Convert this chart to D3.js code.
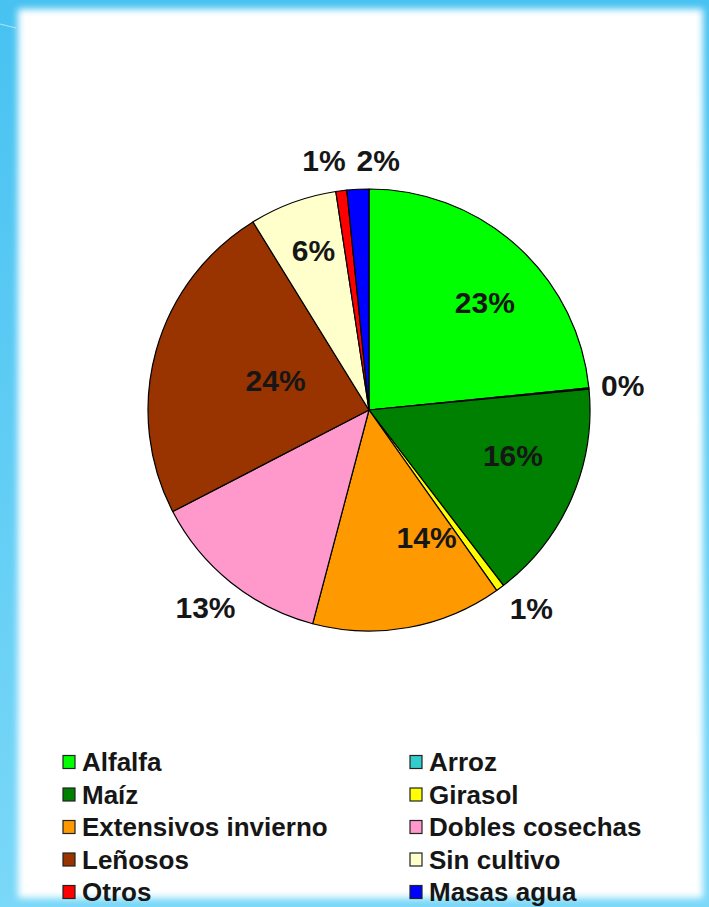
<!DOCTYPE html>
<html>
<head>
<meta charset="utf-8">
<script src="https://cdn.jsdelivr.net/npm/d3@7"></script>
<style>
  html, body { margin: 0; padding: 0; background: #fff; }
  svg { display: block; }
</style>
</head>
<body>
<div id="app"></div>
<script>
// data (clockwise from 12 o'clock)
const categories = ["Alfalfa", "Arroz", "Maíz", "Girasol", "Extensivos invierno",
  "Dobles cosechas", "Leñosos", "Sin cultivo", "Otros", "Masas agua"]
const values = [23.4, 0.1, 16.1, 0.6, 13.9, 13.3, 23.8, 6.4, 0.8, 1.6]
const colors = ["#00ff00", "#33cccc", "#008000", "#ffff00", "#ff9900",
  "#ff99cc", "#993300", "#ffffcc", "#ff0000", "#0000ff"]

// label placement: [radius, angle shift in degrees] (Excel "best fit")
const labelLayout = [[158, 5], [255, 0], [151, -6], [256, -3], [140, -14],
  [256, 1], [98, 2], [169, 1], [254, -3], [250, 5]]

const W = 709, H = 907
const cx = 369, cy = 410, R = 221

const svg = d3.select("#app").append("svg")
  .attr("width", W)
  .attr("height", H)

const defs = svg.append("defs")
const bg = defs.append("linearGradient").attr("id", "bg")
  .attr("x1", 0).attr("y1", 0).attr("x2", 0).attr("y2", 1)
bg.append("stop").attr("offset", "0%").attr("stop-color", "#47c2f1")
bg.append("stop").attr("offset", "100%").attr("stop-color", "#7ad8f8")
defs.append("filter").attr("id", "soft")
  .attr("x", "-5%").attr("y", "-5%").attr("width", "110%").attr("height", "110%")
  .append("feGaussianBlur").attr("stdDeviation", 3.5)

// slide frame
svg.append("rect").attr("width", W).attr("height", H).attr("fill", "url(#bg)")
svg.append("rect")
  .attr("x", 18).attr("y", 9)
  .attr("width", W - 24).attr("height", H - 18)
  .attr("fill", "#fff")
  .attr("filter", "url(#soft)")
svg.append("path")
  .attr("d", "M0,24 Q8,26 16,28")
  .attr("fill", "none").attr("stroke", "#d8f3ff").attr("stroke-width", 1)
  .attr("opacity", 0.7)

// pie
const pie = d3.pie().sort(null).value(d => d)
const arcs = pie(values)
const arc = d3.arc().innerRadius(0).outerRadius(R)

const g = svg.append("g").attr("transform", `translate(${cx},${cy})`)

g.selectAll("path")
  .data(arcs)
  .join("path")
    .attr("d", arc)
    .attr("fill", (d, i) => colors[i])
    .attr("stroke", "#000")
    .attr("stroke-width", 1.2)
    .attr("stroke-linejoin", "round")

const total = d3.sum(values)
g.selectAll("text")
  .data(arcs)
  .join("text")
    .attr("transform", (d, i) => {
      const [r, shift] = labelLayout[i]
      const a = (d.startAngle + d.endAngle) / 2 + shift * Math.PI / 180
      return `translate(${r * Math.sin(a)},${-r * Math.cos(a)})`
    })
    .attr("text-anchor", "middle")
    .attr("dy", "0.36em")
    .attr("font-family", "'Liberation Sans', Arial, sans-serif")
    .attr("font-weight", "bold")
    .attr("font-size", 30)
    .attr("fill", "#161616")
    .text(d => Math.round(d.value / total * 100) + "%")

// legend, two columns, row-major
const colX = [63, 410]
const rowY = d3.range(5).map(i => 762 + i * 32.5)

const legend = svg.append("g")
  .selectAll("g")
  .data(categories)
  .join("g")
    .attr("transform", (d, i) => `translate(${colX[i % 2]},${rowY[Math.floor(i / 2)]})`)

legend.append("rect")
  .attr("x", 0).attr("y", -6.5)
  .attr("width", 12).attr("height", 13)
  .attr("fill", (d, i) => colors[categories.indexOf(d)])
  .attr("stroke", "#222")
  .attr("stroke-width", 1.2)

legend.append("text")
  .attr("x", 19)
  .attr("dy", "0.36em")
  .attr("font-family", "'Liberation Sans', Arial, sans-serif")
  .attr("font-weight", "bold")
  .attr("font-size", 26)
  .attr("fill", "#161616")
  .text(d => d)
</script>
</body>
</html>
